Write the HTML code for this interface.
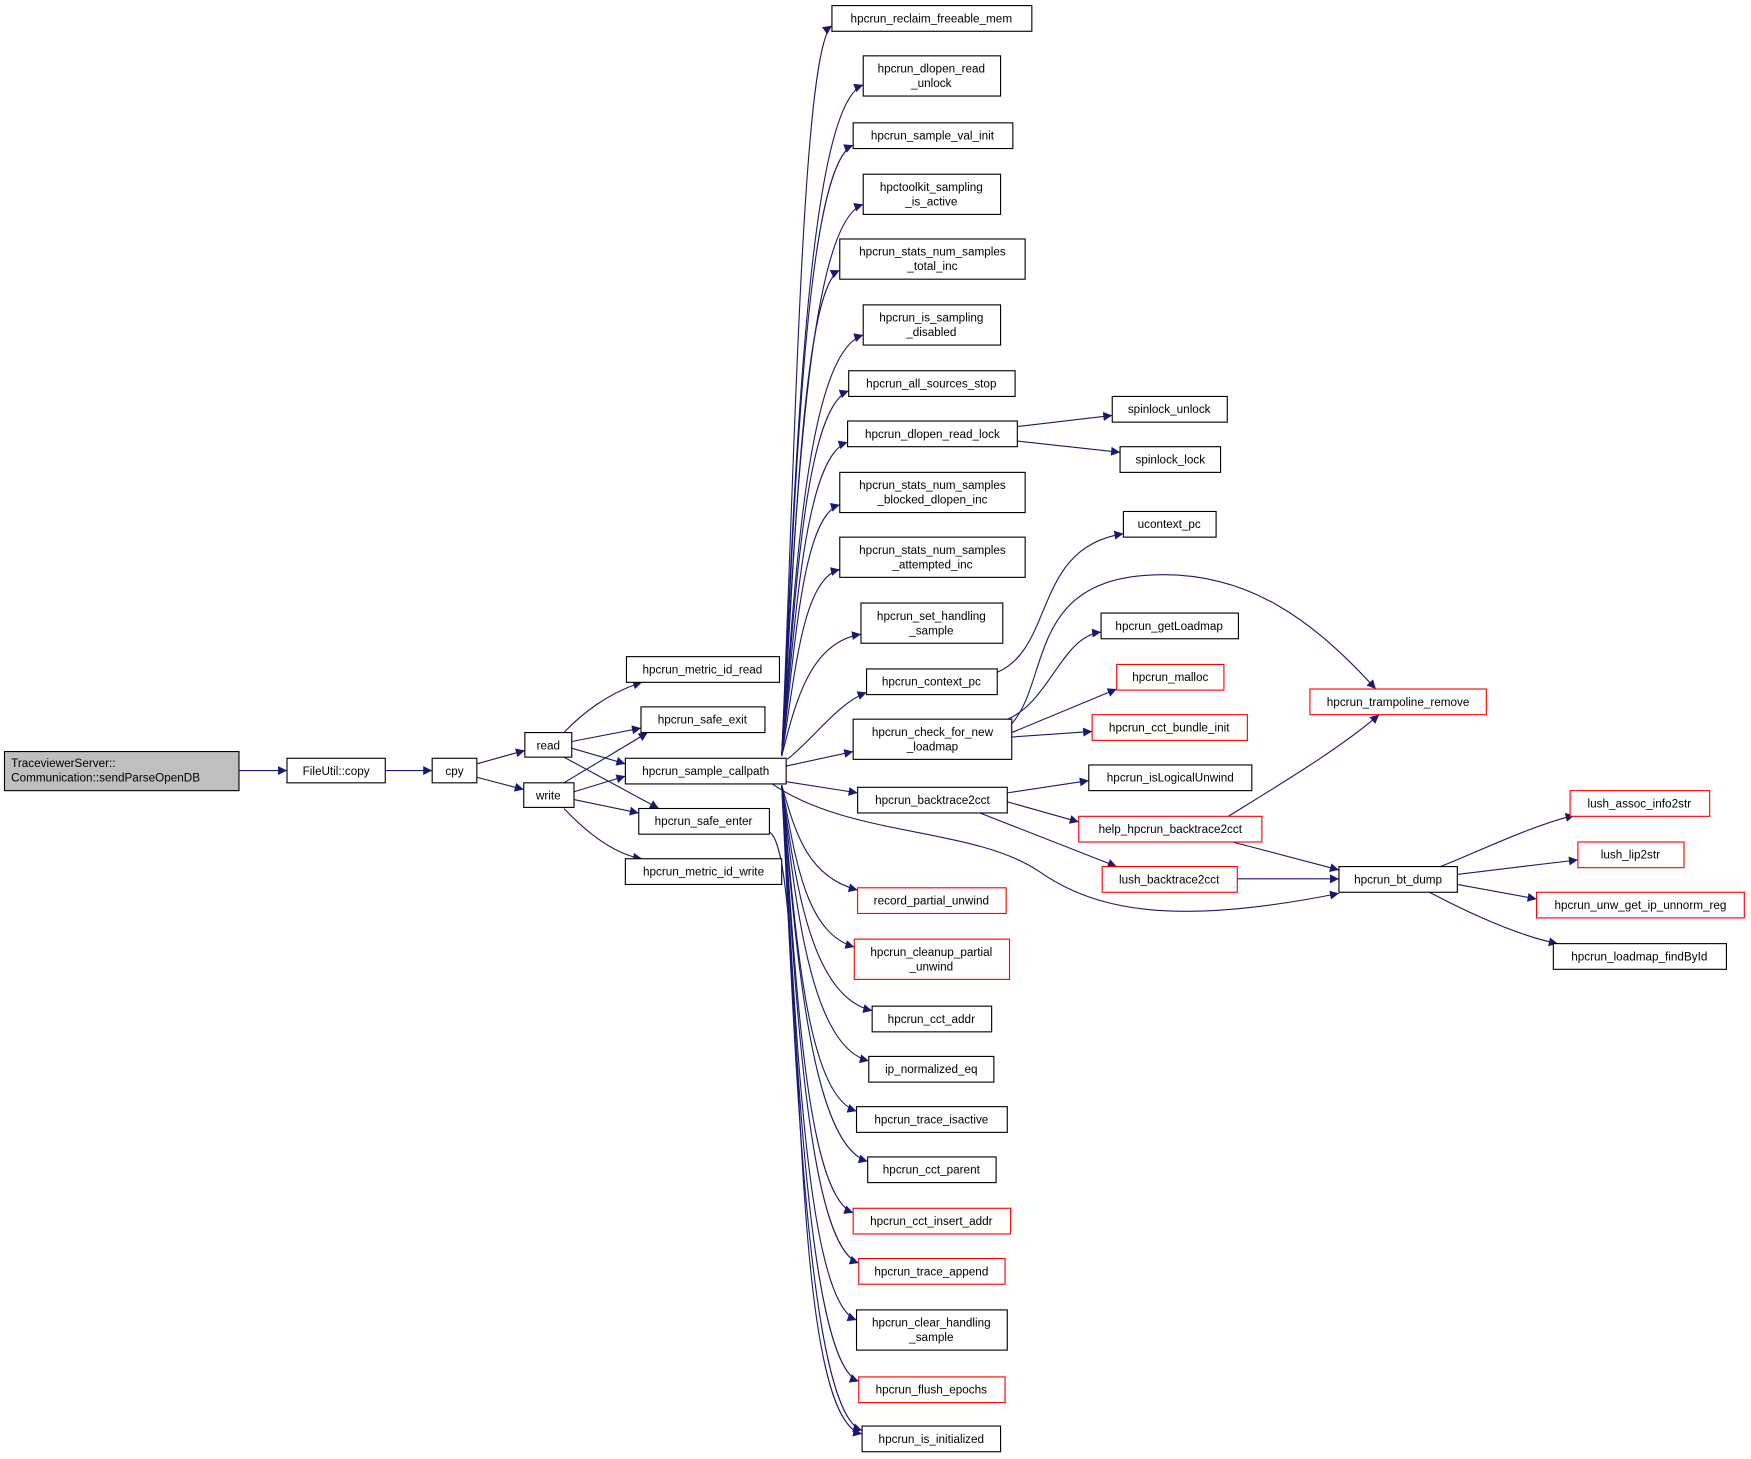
<!DOCTYPE html>
<html><head><meta charset="utf-8"><style>
html,body{margin:0;padding:0;background:#fff;}
svg{display:block;}
text{font-family:"Liberation Sans",Helvetica,sans-serif;font-size:10.5px;fill:#000;text-anchor:middle;}
.b{fill:#fff;stroke:#000;stroke-width:1;}
.r{fill:#fff;stroke:#f00;stroke-width:1;}
.e{fill:none;stroke:#191970;stroke-width:1;marker-end:url(#a);}
</style></head><body>
<svg width="1751" height="1459" viewBox="0 0 1568 1306.5" xmlns="http://www.w3.org/2000/svg">
<defs><marker id="a" viewBox="0 0 10 10" refX="10" refY="5" markerWidth="11" markerHeight="8" markerUnits="userSpaceOnUse" orient="auto"><path d="M0,0 L10,5 L0,10 z" fill="#191970"/></marker></defs>
<rect width="1568" height="1307" fill="#fff"/>
<path class="e" d="M214,690 L257,690"/>
<path class="e" d="M345,690 L387,690"/>
<path class="e" d="M427,684 L470,672"/>
<path class="e" d="M427,696 L469,707"/>
<path class="e" d="M505,656 C520,640 545,620 575,611"/>
<path class="e" d="M512,664 L574,652"/>
<path class="e" d="M512,670 L560,684"/>
<path class="e" d="M505,678 L590,724"/>
<path class="e" d="M505,701 L580,656"/>
<path class="e" d="M514,709 L560,695"/>
<path class="e" d="M514,716 L572,728"/>
<path class="e" d="M505,724 C525,745 550,765 575,769"/>
<path class="e" d="M689,745 C725,765 700,1270 772,1284"/>
<path class="e" d="M700,677 C712,413 718,42 745,23"/>
<path class="e" d="M700,677 C712,433 722,95 773,76"/>
<path class="e" d="M700,677 C712,454 720,148 764,130"/>
<path class="e" d="M700,677 C712,475 722,200 773,183"/>
<path class="e" d="M700,677 C712,499 718,258 752,242"/>
<path class="e" d="M700,677 C712,522 722,316 773,300"/>
<path class="e" d="M700,677 C712,543 720,365 760,350"/>
<path class="e" d="M700,677 C712,561 720,408 759,396"/>
<path class="e" d="M700,677 C712,582 718,462 752,452"/>
<path class="e" d="M700,677 C712,606 718,518 752,510"/>
<path class="e" d="M700,677 C712,630 725,575 771,568"/>
<path class="e" d="M705,680 C730,660 750,630 776,620"/>
<path class="e" d="M704,686 L764,673"/>
<path class="e" d="M704,700 L768,710"/>
<path class="e" d="M700,703 C712,744 722,785 768,797"/>
<path class="e" d="M700,703 C712,765 720,835 765,848"/>
<path class="e" d="M700,703 C712,787 725,892 781,905"/>
<path class="e" d="M700,703 C712,805 725,937 778,950"/>
<path class="e" d="M700,703 C712,823 720,980 767,995"/>
<path class="e" d="M700,703 C712,841 725,1025 777,1040"/>
<path class="e" d="M700,703 C712,859 720,1070 764,1086"/>
<path class="e" d="M700,703 C712,877 722,1115 769,1131"/>
<path class="e" d="M700,703 C712,898 720,1165 767,1182"/>
<path class="e" d="M700,703 C712,919 722,1220 769,1237"/>
<path class="e" d="M700,703 C712,937 722,1265 772,1281"/>
<path class="e" d="M690,701 C760,750 870,740 930,780 C980,815 1050,830 1199,800"/>
<path class="e" d="M911,382 L996,372"/>
<path class="e" d="M911,395 L1003,405"/>
<path class="e" d="M893,602 C945,580 925,490 1006,478"/>
<path class="e" d="M900,645 C940,630 950,570 986,566"/>
<path class="e" d="M906,656 L1000,617"/>
<path class="e" d="M906,660 L978,655"/>
<path class="e" d="M906,648 C940,610 920,520 1030,515 C1120,510 1180,560 1232,617"/>
<path class="e" d="M902,710 L975,699"/>
<path class="e" d="M902,718 L966,736"/>
<path class="e" d="M875,727 C920,745 960,760 1000,776"/>
<path class="e" d="M1100,731 C1150,700 1200,670 1235,640"/>
<path class="e" d="M1100,753 L1199,779"/>
<path class="e" d="M1108,787 L1199,787"/>
<path class="e" d="M1290,776 C1330,760 1370,740 1410,730"/>
<path class="e" d="M1305,783 L1413,770"/>
<path class="e" d="M1305,792 L1376,805"/>
<path class="e" d="M1280,799 C1320,820 1360,838 1395,845"/>
<rect x="4" y="673" width="210" height="35" fill="#bfbfbf" stroke="#000"/>
<text x="10" y="687" style="text-anchor:start">TraceviewerServer::</text>
<text x="10" y="700" style="text-anchor:start">Communication::sendParseOpenDB</text>
<rect class="b" x="257" y="679" width="88" height="22"/><text x="301" y="694">FileUtil::copy</text>
<rect class="b" x="387" y="679" width="40" height="22"/><text x="407" y="694">cpy</text>
<rect class="b" x="470" y="656" width="42" height="22"/><text x="491" y="671">read</text>
<rect class="b" x="469" y="701" width="45" height="22"/><text x="491" y="716">write</text>
<rect class="b" x="561" y="588" width="137" height="23"/><text x="629" y="603">hpcrun_metric_id_read</text>
<rect class="b" x="574" y="633" width="111" height="23"/><text x="629" y="648">hpcrun_safe_exit</text>
<rect class="b" x="560" y="679" width="144" height="23"/><text x="632" y="694">hpcrun_sample_callpath</text>
<rect class="b" x="572" y="724" width="117" height="23"/><text x="630" y="739">hpcrun_safe_enter</text>
<rect class="b" x="560" y="769" width="140" height="23"/><text x="630" y="784">hpcrun_metric_id_write</text>
<rect class="b" x="745" y="5" width="179" height="23"/><text x="834" y="20">hpcrun_reclaim_freeable_mem</text>
<rect class="b" x="773" y="50" width="123" height="36"/><text x="834" y="65">hpcrun_dlopen_read</text><text x="834" y="78">_unlock</text>
<rect class="b" x="764" y="110" width="143" height="23"/><text x="835" y="125">hpcrun_sample_val_init</text>
<rect class="b" x="773" y="156" width="123" height="36"/><text x="834" y="171">hpctoolkit_sampling</text><text x="834" y="184">_is_active</text>
<rect class="b" x="752" y="214" width="166" height="36"/><text x="835" y="229">hpcrun_stats_num_samples</text><text x="835" y="242">_total_inc</text>
<rect class="b" x="773" y="273" width="123" height="36"/><text x="834" y="288">hpcrun_is_sampling</text><text x="834" y="301">_disabled</text>
<rect class="b" x="760" y="332" width="149" height="23"/><text x="834" y="347">hpcrun_all_sources_stop</text>
<rect class="b" x="759" y="377" width="152" height="23"/><text x="835" y="392">hpcrun_dlopen_read_lock</text>
<rect class="b" x="752" y="423" width="166" height="36"/><text x="835" y="438">hpcrun_stats_num_samples</text><text x="835" y="451">_blocked_dlopen_inc</text>
<rect class="b" x="752" y="481" width="166" height="36"/><text x="835" y="496">hpcrun_stats_num_samples</text><text x="835" y="509">_attempted_inc</text>
<rect class="b" x="771" y="540" width="127" height="36"/><text x="834" y="555">hpcrun_set_handling</text><text x="834" y="568">_sample</text>
<rect class="b" x="776" y="599" width="117" height="23"/><text x="834" y="614">hpcrun_context_pc</text>
<rect class="b" x="764" y="644" width="142" height="36"/><text x="835" y="659">hpcrun_check_for_new</text><text x="835" y="672">_loadmap</text>
<rect class="b" x="768" y="705" width="134" height="23"/><text x="835" y="720">hpcrun_backtrace2cct</text>
<rect class="r" x="768" y="795" width="133" height="23"/><text x="834" y="810">record_partial_unwind</text>
<rect class="r" x="765" y="841" width="139" height="36"/><text x="834" y="856">hpcrun_cleanup_partial</text><text x="834" y="869">_unwind</text>
<rect class="b" x="781" y="901" width="107" height="23"/><text x="834" y="916">hpcrun_cct_addr</text>
<rect class="b" x="778" y="946" width="112" height="23"/><text x="834" y="961">ip_normalized_eq</text>
<rect class="b" x="767" y="991" width="135" height="23"/><text x="834" y="1006">hpcrun_trace_isactive</text>
<rect class="b" x="777" y="1036" width="115" height="23"/><text x="834" y="1051">hpcrun_cct_parent</text>
<rect class="r" x="764" y="1082" width="141" height="23"/><text x="834" y="1097">hpcrun_cct_insert_addr</text>
<rect class="r" x="769" y="1127" width="131" height="23"/><text x="834" y="1142">hpcrun_trace_append</text>
<rect class="b" x="767" y="1173" width="135" height="36"/><text x="834" y="1188">hpcrun_clear_handling</text><text x="834" y="1201">_sample</text>
<rect class="r" x="769" y="1233" width="131" height="23"/><text x="834" y="1248">hpcrun_flush_epochs</text>
<rect class="b" x="772" y="1277" width="124" height="23"/><text x="834" y="1292">hpcrun_is_initialized</text>
<rect class="b" x="996" y="355" width="103" height="23"/><text x="1047" y="370">spinlock_unlock</text>
<rect class="b" x="1003" y="400" width="90" height="23"/><text x="1048" y="415">spinlock_lock</text>
<rect class="b" x="1006" y="458" width="83" height="23"/><text x="1047" y="473">ucontext_pc</text>
<rect class="b" x="986" y="549" width="123" height="23"/><text x="1047" y="564">hpcrun_getLoadmap</text>
<rect class="r" x="1000" y="595" width="96" height="23"/><text x="1048" y="610">hpcrun_malloc</text>
<rect class="r" x="978" y="640" width="139" height="23"/><text x="1047" y="655">hpcrun_cct_bundle_init</text>
<rect class="b" x="975" y="685" width="146" height="23"/><text x="1048" y="700">hpcrun_isLogicalUnwind</text>
<rect class="r" x="966" y="731" width="164" height="23"/><text x="1048" y="746">help_hpcrun_backtrace2cct</text>
<rect class="r" x="987" y="776" width="121" height="23"/><text x="1047" y="791">lush_backtrace2cct</text>
<rect class="r" x="1173" y="617" width="158" height="23"/><text x="1252" y="632">hpcrun_trampoline_remove</text>
<rect class="b" x="1199" y="776" width="106" height="23"/><text x="1252" y="791">hpcrun_bt_dump</text>
<rect class="r" x="1406" y="708" width="125" height="23"/><text x="1468" y="723">lush_assoc_info2str</text>
<rect class="r" x="1413" y="754" width="95" height="23"/><text x="1460" y="769">lush_lip2str</text>
<rect class="r" x="1376" y="799" width="186" height="23"/><text x="1469" y="814">hpcrun_unw_get_ip_unnorm_reg</text>
<rect class="b" x="1391" y="845" width="155" height="23"/><text x="1468" y="860">hpcrun_loadmap_findById</text>
</svg>
</body></html>
